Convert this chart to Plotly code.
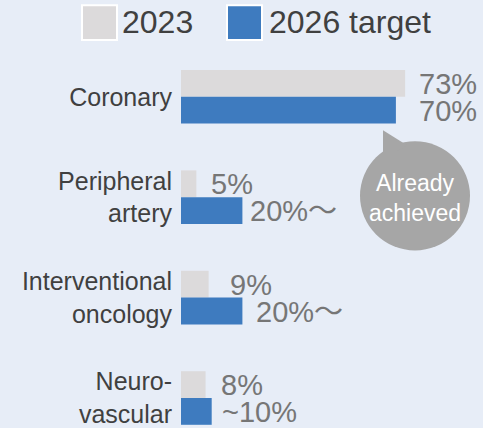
import plotly.graph_objects as go

categories = ["Coronary", "Peripheral<br>artery", "Interventional<br>oncology", "Neuro-<br>vascular"]
values_2023 = [73, 5, 9, 8]
values_2026 = [70, 20, 20, 10]
labels_2023 = ["73%", "5%", "9%", "8%"]
labels_2026 = ["70%", "20%～", "20%～", "~10%"]
series_names = ["2023", "2026 target"]
callout_text = "Already<br>achieved"

W, H = 483, 428
ML, MT = 181, 46
BG = "#E7EDF7"
GREY = "#DCDADB"
BLUE = "#3E7BBF"
FONT = "Liberation Sans, Arial, Noto Sans CJK JP, sans-serif"


def px_x(px):
    return (px - ML) / (W - ML)


def px_y(py):
    return (H - py) / (H - MT)


fig = go.Figure()
fig.add_trace(go.Bar(y=categories, x=values_2023, orientation="h", name=series_names[0],
                     marker=dict(color=GREY, line_width=0), hoverinfo="x+y"))
fig.add_trace(go.Bar(y=categories, x=values_2026, orientation="h", name=series_names[1],
                     marker=dict(color=BLUE, line_width=0), hoverinfo="x+y"))

# value labels next to the bars
shift_2023 = [12, 13, 19, 13]
shift_2026 = [21, 6, 12, 8]
for cat, v, lab, s in zip(categories, values_2023, labels_2023, shift_2023):
    fig.add_annotation(x=v, y=cat, text=lab, showarrow=False, xanchor="left", yanchor="middle",
                       xshift=s, yshift=13, font=dict(family=FONT, size=29, color="#767676"))
for cat, v, lab, s in zip(categories, values_2026, labels_2026, shift_2026):
    fig.add_annotation(x=v, y=cat, text=lab, showarrow=False, xanchor="left", yanchor="middle",
                       xshift=s, yshift=-14, font=dict(family=FONT, size=29, color="#767676"))

# legend drawn by hand (large swatches)
fig.add_shape(type="rect", xref="paper", yref="paper", x0=px_x(82), x1=px_x(117), y0=px_y(40), y1=px_y(5),
              fillcolor=GREY, line=dict(color="white", width=2))
fig.add_shape(type="rect", xref="paper", yref="paper", x0=px_x(227), x1=px_x(262), y0=px_y(40), y1=px_y(5),
              fillcolor=BLUE, line=dict(color="white", width=2))
fig.add_annotation(xref="paper", yref="paper", x=px_x(120), y=px_y(22), text=series_names[0], showarrow=False,
                   xanchor="left", yanchor="middle", font=dict(family=FONT, size=32, color="#404040"))
fig.add_annotation(xref="paper", yref="paper", x=px_x(267), y=px_y(22), text=series_names[1], showarrow=False,
                   xanchor="left", yanchor="middle", font=dict(family=FONT, size=32, color="#404040"))

# callout bubble
fig.add_shape(type="circle", xref="paper", yref="paper", x0=px_x(360), x1=px_x(470), y0=px_y(252), y1=px_y(142),
              fillcolor="#A6A6A6", line_width=0)
fig.add_shape(type="path", xref="paper", yref="paper",
              path=f"M {px_x(383)} {px_y(131)} L {px_x(383)} {px_y(160)} L {px_x(407)} {px_y(146)} Z",
              fillcolor="#A6A6A6", line_width=0)
fig.add_annotation(xref="paper", yref="paper", x=px_x(415), y=px_y(199), text=callout_text, showarrow=False,
                   xanchor="center", yanchor="middle", font=dict(family=FONT, size=23, color="white"))

fig.update_layout(
    width=W, height=H,
    margin=dict(l=ML, r=0, t=MT, b=0),
    paper_bgcolor=BG, plot_bgcolor=BG,
    showlegend=False,
    barmode="group", bargap=0.466, bargroupgap=0,
    xaxis=dict(range=[0, (W - ML) / 3.07], visible=False, fixedrange=True),
    yaxis=dict(range=[3.269, -0.506], showgrid=False, zeroline=False, showline=False,
               ticks="", ticklabelstandoff=8,
               tickfont=dict(family=FONT, size=25, color="#404040"), fixedrange=True),
)

fig.write_html("out.html", config={"displayModeBar": False},
               post_script="document.body.style.margin='0';document.body.style.background='%s';" % BG)
